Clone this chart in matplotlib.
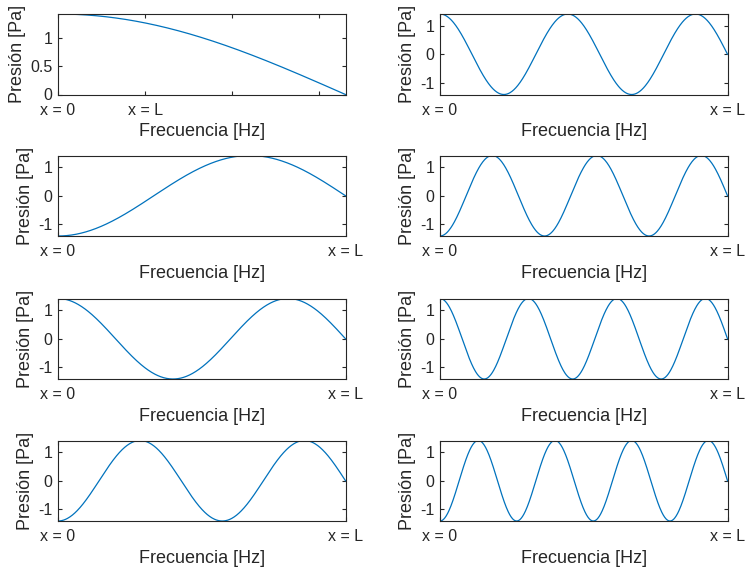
import numpy as np
import matplotlib
matplotlib.use("Agg")
import matplotlib.pyplot as plt

# modos de un tubo cerrado-abierto, columna izquierda y luego derecha
modes = [1, 3, 5, 7, 9, 11, 13, 15]
signs = [1, -1, 1, -1, 1, -1, 1, -1]
amplitude = 1.414
L = 0.33
first_xticks = [0, 0.1, 0.2, 0.3]
first_xticklabels = ["x = 0", "x = L", "", ""]
end_xticklabels = ["x = 0", "x = L"]
first_yticks = [0, 0.5, 1]
first_yticklabels = ["0", "0.5", "1"]
yticks = [-1, 0, 1]

plt.rcParams["font.family"] = ["Liberation Sans", "DejaVu Sans"]
plt.rcParams["axes.unicode_minus"] = False
line_color = "#0072BD"
axis_color = "#262626"

fig = plt.figure(figsize=(7.46, 5.71), dpi=100)

col_left = [58, 440]
row_top = [14, 155.5, 298.5, 440.5]
ax_w, ax_h = 287.5, 80.5
W, H = 746, 571

x = np.linspace(0, L, 600)

for i, (n, s) in enumerate(zip(modes, signs)):
    col = i // 4
    row = i % 4
    ax = fig.add_axes([col_left[col] / W, 1 - (row_top[row] + ax_h) / H, ax_w / W, ax_h / H])
    p = s * amplitude * np.cos(n * np.pi * x / (2 * L))
    ax.plot(x, p, color=line_color, lw=0.9)
    ax.set_xlim(0, L)
    if i == 0:
        ax.set_ylim(0, amplitude)
        ax.set_xticks(first_xticks)
        ax.set_xticklabels(first_xticklabels)
        ax.set_yticks(first_yticks)
        ax.set_yticklabels(first_yticklabels)
    else:
        ax.set_ylim(-amplitude, amplitude)
        ax.set_xticks([0, L])
        ax.set_xticklabels(end_xticklabels)
        ax.set_yticks(yticks)
    ax.tick_params(direction="in", length=3, width=0.8, colors=axis_color,
                   labelsize=11.5, top=True, right=True)
    ax.tick_params(axis="y", pad=4)
    ax.tick_params(axis="x", pad=6)
    for sp in ax.spines.values():
        sp.set_color(axis_color)
        sp.set_linewidth(0.8)
    ax.set_xlabel("Frecuencia [Hz]", fontsize=13, color=axis_color, labelpad=4)
    ax.set_ylabel("Presión [Pa]", fontsize=13, color=axis_color, labelpad=3)

fig.savefig("out.png", dpi=100)
